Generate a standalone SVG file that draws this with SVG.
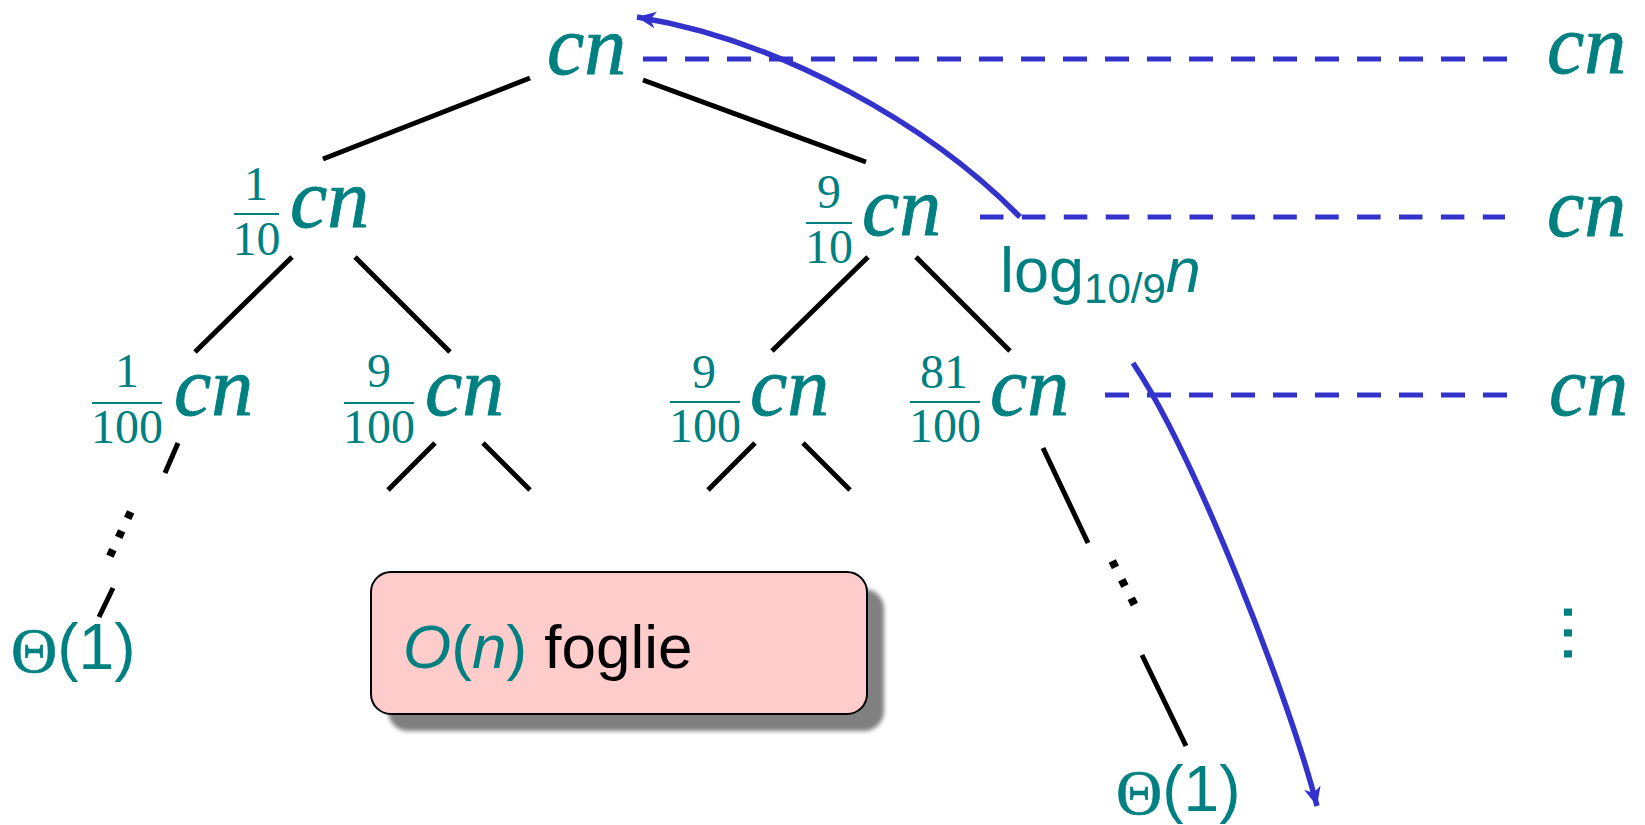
<svg xmlns="http://www.w3.org/2000/svg" width="1645" height="825" viewBox="0 0 1645 825">
<style>
.cn{font-family:"Liberation Serif",serif;font-style:italic;font-size:84px;fill:#008080;stroke:#008080;stroke-width:0.9}
.fr{font-family:"Liberation Serif",serif;font-size:48px;fill:#008080;text-anchor:middle}
.bar{stroke:#008080;stroke-width:2}
.edge{stroke:#000;stroke-width:5;fill:none}
.dash{stroke:#3333CC;stroke-width:5;stroke-dasharray:24 18;fill:none}
.arc{stroke:#3333CC;stroke-width:5.5;fill:none;marker-end:url(#ah)}
.sans{font-family:"Liberation Sans",Arial,sans-serif;fill:#008080}
.th{font-family:"Liberation Serif",serif;font-size:64px;fill:#008080;stroke:#008080;stroke-width:0.6}
.dots{font-family:"Liberation Sans",Arial,sans-serif;font-size:75px}
</style>
<defs>
<marker id="ah" markerUnits="userSpaceOnUse" markerWidth="24" markerHeight="20" refX="19" refY="8.5" orient="auto">
<path d="M19,8.5 L0,0 L5.5,8.5 L0,17 z" fill="#3333CC"/>
</marker>
<filter id="sh" x="-10%" y="-10%" width="120%" height="130%"><feGaussianBlur stdDeviation="2"/></filter>
</defs>
<rect width="1645" height="825" fill="#fff"/>

<g id="connectors">
<line class="edge" x1="323" y1="159" x2="530" y2="78"/>
<line class="edge" x1="643" y1="80" x2="866" y2="162"/>
<line class="edge" x1="292" y1="257" x2="195" y2="352"/>
<line class="edge" x1="355" y1="257" x2="450" y2="352"/>
<line class="edge" x1="868" y1="257" x2="772" y2="351"/>
<line class="edge" x1="916" y1="257" x2="1010" y2="351"/>
<line class="edge" x1="178" y1="443" x2="165" y2="473"/>
<line class="edge" x1="113" y1="588" x2="99" y2="617"/>
<line class="edge" x1="435" y1="443" x2="388" y2="490"/>
<line class="edge" x1="483" y1="443" x2="530" y2="490"/>
<line class="edge" x1="755" y1="443" x2="708" y2="490"/>
<line class="edge" x1="803" y1="443" x2="850" y2="490"/>
<line class="edge" x1="1043" y1="448" x2="1088" y2="543"/>
<line class="edge" x1="1142" y1="655" x2="1186" y2="746"/>
<text class="dots" x="-31.3" y="3.75" transform="translate(120,534) rotate(115.3)">...</text>
<text class="dots" x="-31.3" y="3.75" transform="translate(1123,583) rotate(62.9)">...</text>
<line class="dash" x1="643" y1="59" x2="1507" y2="59"/>
<line class="dash" x1="980" y1="217" x2="1505" y2="217" style="stroke-dasharray:23.5 18.4"/>
<line class="dash" x1="1105" y1="395" x2="1507" y2="395"/>
<path class="arc" d="M1020,217 C930,125 780,40 637,17"/>
<path class="arc" d="M1133,363 C1195,455 1290,700 1317,806"/>
</g>

<g id="n-root"><text class="cn" x="547" y="74">cn</text></g>
<g id="n-110">
<text class="fr" x="256" y="200">1</text><line class="bar" x1="234" y1="214" x2="279" y2="214"/><text class="fr" x="256.5" y="255">10</text>
<text class="cn" x="290" y="227">cn</text></g>
<g id="n-910">
<text class="fr" x="829" y="208">9</text><line class="bar" x1="806" y1="223" x2="852" y2="223"/><text class="fr" x="829" y="263">10</text>
<text class="cn" x="862" y="235">cn</text></g>
<g id="n-1100">
<text class="fr" x="127" y="387">1</text><line class="bar" x1="92" y1="403" x2="162" y2="403"/><text class="fr" x="127" y="443">100</text>
<text class="cn" x="174" y="415">cn</text></g>
<g id="n-9100a">
<text class="fr" x="379" y="387">9</text><line class="bar" x1="344" y1="403" x2="414" y2="403"/><text class="fr" x="379" y="443">100</text>
<text class="cn" x="425" y="415">cn</text></g>
<g id="n-9100b">
<text class="fr" x="704" y="388">9</text><line class="bar" x1="670" y1="402" x2="740" y2="402"/><text class="fr" x="705" y="442">100</text>
<text class="cn" x="750" y="415">cn</text></g>
<g id="n-81100">
<text class="fr" x="944" y="388">81</text><line class="bar" x1="910" y1="402" x2="980" y2="402"/><text class="fr" x="945" y="442">100</text>
<text class="cn" x="990" y="415">cn</text></g>

<g id="r-1"><text class="cn" x="1547" y="73">cn</text></g>
<g id="r-2"><text class="cn" x="1547" y="236">cn</text></g>
<g id="r-3"><text class="cn" x="1549" y="415">cn</text></g>
<g id="r-dots"><text class="dots" x="-31.3" y="3.75" fill="#008080" transform="translate(1568,633) rotate(90)">...</text></g>

<g id="leaf-left"><text x="11" y="672"><tspan class="th">Θ</tspan><tspan class="sans" font-size="64" dy="-3">(1)</tspan></text></g>
<g id="leaf-right"><text x="1116" y="814"><tspan class="th">Θ</tspan><tspan class="sans" font-size="64" dy="-3">(1)</tspan></text></g>

<g id="log-label"><text class="sans" x="1000" y="292" font-size="63">log<tspan font-size="42" dy="11">10/9</tspan><tspan font-style="italic" dy="-11">n</tspan></text></g>

<g id="leaves-box">
<rect x="388" y="589" width="496" height="142" rx="20" fill="#808080" filter="url(#sh)"/>
<rect x="371" y="572" width="496" height="142" rx="20" fill="#FFCCCC" stroke="#000" stroke-width="2"/>
<text x="403" y="668" font-family="Liberation Sans,Arial,sans-serif" font-size="62"><tspan fill="#008080" font-style="italic">O</tspan><tspan fill="#008080">(</tspan><tspan fill="#008080" font-style="italic">n</tspan><tspan fill="#008080">)</tspan> foglie</text>
</g>
</svg>
